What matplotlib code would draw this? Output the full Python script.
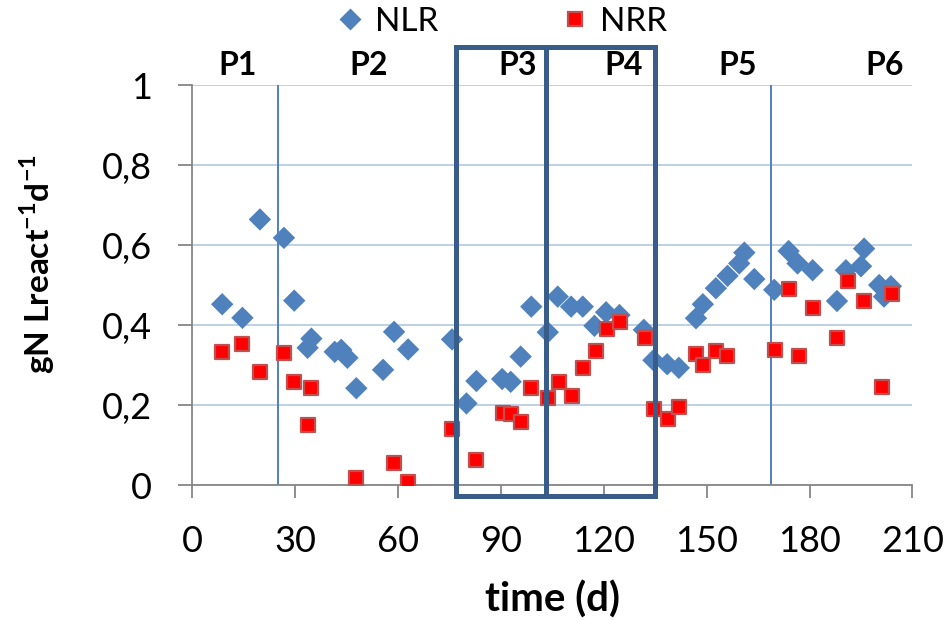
import matplotlib
matplotlib.use("Agg")
import matplotlib.pyplot as plt
from matplotlib.patches import Rectangle
from matplotlib.lines import Line2D

plt.rcParams['font.family'] = ['Lato', 'DejaVu Sans']
plt.rcParams['mathtext.fontset'] = 'custom'
plt.rcParams['mathtext.rm'] = 'Lato'
plt.rcParams['mathtext.bf'] = 'Lato:bold'

# Nitrogen loading rate (NLR) and removal rate (NRR), gN per litre reactor per day
nlr_day = [8.8, 14.7, 19.8, 26.8, 29.8, 34.8, 33.7, 41.6, 43.5, 45.3, 47.9, 55.7, 58.9, 63.0,
           75.8, 80.0, 82.9, 90.4, 92.9, 95.8, 98.9, 103.7, 106.6, 110.5, 113.9, 117.3, 120.7,
           124.6, 131.7, 134.5, 138.5, 141.9, 146.9, 148.9, 152.7, 156.1, 159.5, 161.0, 163.9,
           169.7, 173.9, 176.5, 180.9, 188.0, 190.6, 195.0, 195.9, 200.3, 201.7, 203.7]
nlr_val = [0.452, 0.418, 0.664, 0.618, 0.461, 0.366, 0.343, 0.333, 0.338, 0.318, 0.242, 0.288,
           0.383, 0.339, 0.364, 0.204, 0.260, 0.265, 0.258, 0.321, 0.446, 0.382, 0.471, 0.446,
           0.446, 0.398, 0.432, 0.425, 0.388, 0.312, 0.302, 0.293, 0.417, 0.452, 0.492, 0.523,
           0.554, 0.581, 0.515, 0.488, 0.585, 0.554, 0.537, 0.460, 0.537, 0.547, 0.591, 0.500,
           0.471, 0.497]

nrr_day = [8.8, 14.7, 19.8, 26.8, 29.8, 34.8, 33.9, 47.9, 58.9, 63.0, 75.8, 82.9, 90.6, 93.1,
           96.0, 98.9, 103.7, 106.9, 110.8, 113.9, 117.8, 121.0, 124.9, 131.9, 134.8, 138.6,
           141.9, 146.9, 148.9, 152.7, 156.0, 169.9, 173.9, 176.8, 180.9, 188.0, 191.1, 195.9,
           201.0, 204.0]
nrr_val = [0.333, 0.352, 0.283, 0.329, 0.257, 0.242, 0.150, 0.017, 0.056, 0.007, 0.139, 0.062,
           0.179, 0.177, 0.158, 0.242, 0.217, 0.258, 0.223, 0.292, 0.336, 0.389, 0.407, 0.367,
           0.189, 0.165, 0.194, 0.327, 0.300, 0.336, 0.323, 0.337, 0.489, 0.323, 0.442, 0.368,
           0.510, 0.460, 0.246, 0.478]

period_labels = ["P1", "P2", "P3", "P4", "P5", "P6"]
period_label_x = [13.3, 51.5, 95.0, 125.8, 159.0, 202.0]
period_lines = [25.1, 168.8]
boxes = [(76.9, 103.3), (103.3, 135.0)]

x_ticks = [0, 30, 60, 90, 120, 150, 180, 210]
y_ticks = [0, 0.2, 0.4, 0.6, 0.8, 1.0]
y_tick_labels = ["0", "0,2", "0,4", "0,6", "0,8", "1"]

blue = "#4F81BD"
box_col = "#385D8A"
grid_col = "#B9CDE5"
axis_col = "#868686"
red = "#FF0000"
red_edge = "#C0504D"

fig = plt.figure(figsize=(9.49, 6.21), dpi=100)
ax = fig.add_axes([0.2023, 0.219, 0.7592, 0.644])
ax.set_xlim(0, 210)
ax.set_ylim(0, 1)

ax.set_yticks(y_ticks)
ax.set_yticklabels(y_tick_labels)
ax.set_xticks(x_ticks)
ax.yaxis.grid(True, color=grid_col, linewidth=1.3)
ax.set_axisbelow(True)

for s in ["top", "right"]:
    ax.spines[s].set_visible(False)
for s in ["left", "bottom"]:
    ax.spines[s].set_color(axis_col)
    ax.spines[s].set_linewidth(1.3)
ax.tick_params(axis="x", direction="out", length=9.5, width=1.3, color=axis_col,
               labelsize=26, pad=19)
ax.tick_params(axis="y", direction="out", length=10, width=1.3, color=axis_col,
               labelsize=26, pad=19)

# period separators
for xv in period_lines:
    ax.plot([xv, xv], [0, 1], color=blue, linewidth=1.4, zorder=2)

# data series
ax.scatter(nlr_day, nlr_val, marker="D", s=130, color=blue, edgecolors="none", zorder=3)
ax.scatter(nrr_day, nrr_val, marker="s", s=95, color=red, edgecolors=red_edge,
           linewidths=1.6, zorder=4)

# highlighted periods
for x0, x1 in boxes:
    ax.add_patch(Rectangle((x0, -0.028), x1 - x0, 1.124, fill=False, edgecolor=box_col,
                           linewidth=3.6, clip_on=False, zorder=5))

for lab, xv in zip(period_labels, period_label_x):
    ax.text(xv, 1.05, lab, ha="center", va="center", fontsize=23, fontweight="bold",
            clip_on=False)

ax.set_xlabel("time (d)", fontsize=29, fontweight="bold", va="center")
ax.xaxis.set_label_coords(0.5, -0.2875)
ax.set_ylabel(r"gN Lreact$^{\mathbf{-1}}$d$^{\mathbf{-1}}$", fontsize=24, fontweight="bold",
              va="center")
ax.yaxis.set_label_coords(-0.215, 0.5525)

handles = [
    Line2D([], [], marker="D", linestyle="none", markersize=11.5, color=blue,
           markeredgecolor="none"),
    Line2D([], [], marker="s", linestyle="none", markersize=9.5, color=red,
           markeredgecolor=red_edge, markeredgewidth=1.6),
]
fig.legend(handles, ["NLR", "NRR"], loc="center", bbox_to_anchor=(0.529, 0.9646), ncol=2,
           frameon=False, fontsize=24, handletextpad=0.35, columnspacing=3.7,
           handlelength=0.8, borderpad=0, borderaxespad=0)

fig.savefig("out.png", dpi=100)
